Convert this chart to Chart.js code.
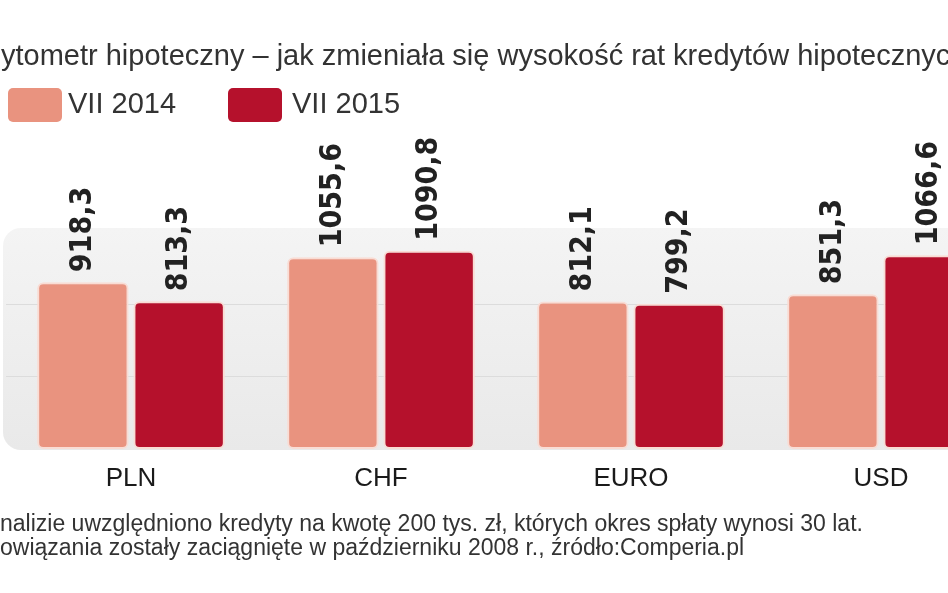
<!DOCTYPE html>
<html><head><meta charset="utf-8">
<script src="https://cdn.jsdelivr.net/npm/chart.js@4"></script>
<style>html,body{margin:0;padding:0;background:#fff;overflow:hidden;width:948px;height:593px}</style>
</head><body>
<canvas id="c" width="1010" height="593" style="width:1010px;height:593px;display:block"></canvas>
<script>
// dane
const kategorie = ['PLN', 'CHF', 'EURO', 'USD'];
const rata2014 = [918.3, 1055.6, 812.1, 851.3];
const rata2015 = [813.3, 1090.8, 799.2, 1066.6];
const serie = ['VII 2014', 'VII 2015'];
const liniePomocnicze = [400, 800];

const kolor2014 = '#e9937f';
const kolor2015 = '#b5112c';

// tło, siatka i teksty rysowane ręcznie
const dekoracje = {
    id: 'dekoracje',
    beforeDatasetsDraw(chart) {
        const c = chart.ctx, a = chart.chartArea, y = chart.scales.y;
        c.save();
        const g = c.createLinearGradient(0, 228, 0, 450);
        g.addColorStop(0, '#f4f4f4');
        g.addColorStop(1, '#e9e9e9');
        c.fillStyle = g;
        c.beginPath();
        c.roundRect(3, 228, 1100, 222, 18);
        c.fill();
        c.strokeStyle = '#dcdcdc';
        c.lineWidth = 1;
        liniePomocnicze.forEach(v => {
            const py = Math.round(y.getPixelForValue(v)) + 0.5;
            c.beginPath(); c.moveTo(a.left, py); c.lineTo(a.right, py); c.stroke();
        });
        c.restore();
    },
    afterDatasetsDraw(chart) {
        const c = chart.ctx, x = chart.scales.x;
        c.save();
        // tytuł
        c.fillStyle = '#333';
        c.font = '29px "Liberation Sans", Arial, sans-serif';
        c.textBaseline = 'middle';
        c.fillText('ytometr hipoteczny – jak zmieniała się wysokość rat kredytów hipotecznych', 1, 57);
        // legenda
        [[8, kolor2014, 68], [228, kolor2015, 292]].forEach((l, i) => {
            c.fillStyle = l[1];
            c.beginPath(); c.roundRect(l[0], 88, 54, 34, 5); c.fill();
            c.fillStyle = '#333';
            c.font = '29px "Liberation Sans", Arial, sans-serif';
            c.fillText(serie[i], l[2], 105);
        });
        // etykiety wartości
        c.font = 'bold 30px "DejaVu Sans Condensed", "Liberation Sans Narrow", sans-serif';
        c.fillStyle = '#222';
        chart.data.datasets.forEach((ds, di) => {
            chart.getDatasetMeta(di).data.forEach((bar, i) => {
                c.save();
                c.translate(bar.x, bar.y - 10);
                c.rotate(-Math.PI / 2);
                c.textAlign = 'left';
                c.textBaseline = 'middle';
                c.fillText(ds.data[i].toFixed(1).replace('.', ','), 0, 0);
                c.restore();
            });
        });
        // kategorie
        c.font = '26px "Liberation Sans", Arial, sans-serif';
        c.textAlign = 'center';
        c.fillStyle = '#1a1a1a';
        kategorie.forEach((k, i) => c.fillText(k, x.getPixelForValue(i), 479));
        // przypis
        c.textAlign = 'left';
        c.font = '23px "Liberation Sans", Arial, sans-serif';
        c.fillStyle = '#333';
        c.fillText('nalizie uwzględniono kredyty na kwotę 200 tys. zł, których okres spłaty wynosi 30 lat.', 0, 525);
        c.fillText('owiązania zostały zaciągnięte w październiku 2008 r., źródło:Comperia.pl', 0, 549);
        c.restore();
    }
};

new Chart(document.getElementById('c'), {
    type: 'bar',
    data: {
        labels: kategorie,
        datasets: [
            { label: serie[0], data: rata2014, backgroundColor: kolor2014 },
            { label: serie[1], data: rata2015, backgroundColor: kolor2015 }
        ]
    },
    options: {
        responsive: false,
        animation: false,
        layout: { padding: { top: 231, bottom: 144, left: 6, right: 4 } },
        datasets: {
            bar: {
                categoryPercentage: 0.77,
                barPercentage: 0.95,
                borderColor: '#f9dcd4',
                borderWidth: 2,
                borderRadius: 6,
                borderSkipped: false
            }
        },
        scales: {
            x: { display: false },
            y: { display: false, min: 0, max: 1200 }
        },
        plugins: { legend: { display: false }, tooltip: { enabled: false } }
    },
    plugins: [dekoracje]
});
</script>
</body></html>
